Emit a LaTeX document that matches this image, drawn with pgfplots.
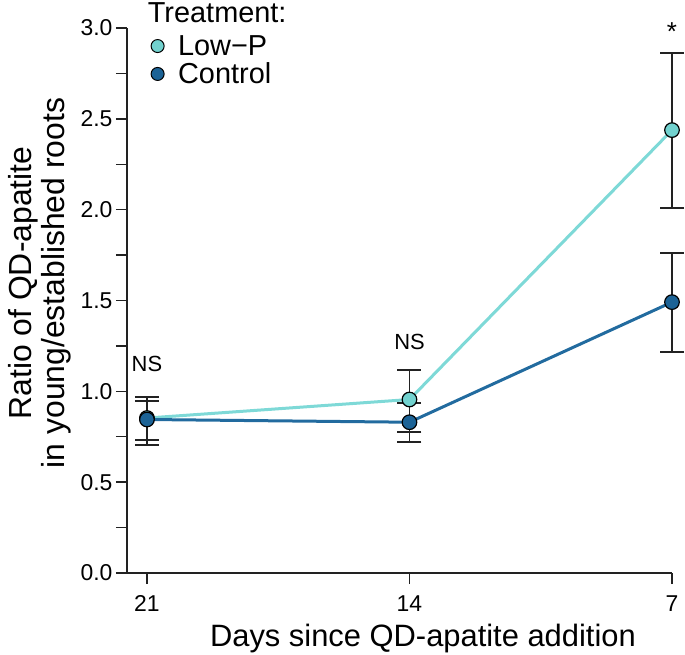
\documentclass[border=0pt]{standalone}
\usepackage{pgfplots}
\pgfplotsset{compat=1.18}
\usepackage{fontspec}
\setmainfont{Liberation Sans}
\definecolor{lowp}{HTML}{72D2CF}
\definecolor{lowpline}{HTML}{7ED9D7}
\definecolor{ctrl}{HTML}{1C6396}
\definecolor{ctrlline}{HTML}{226B9F}
\definecolor{axc}{HTML}{222222}
\begin{document}
\begin{tikzpicture}
\useasboundingbox (-127bp,-82bp) rectangle (558bp,573bp);
\begin{axis}[
 scale only axis, width=545bp, height=545bp,
 xmin=-0.076, xmax=2, ymin=0, ymax=3,
 axis x line*=bottom, axis y line*=left,
 axis line style={axc, line width=1.4bp, -},
 xtick={0,1,2}, xticklabels={21,14,7},
 ytick={0,0.5,...,3}, minor ytick={0.25,0.75,...,2.75},
 /pgf/number format/assume math mode=true,
 yticklabel style={/pgf/number format/.cd, fixed, fixed zerofill, precision=1},
 tick align=outside, major tick length=11bp, minor tick length=11bp,
 tick style={axc, line width=1.4bp},
 ticklabel style={font=\fontsize{23}{27}\selectfont, text=black},
 xticklabel style={yshift=-8bp},
 xlabel={Days since QD-apatite addition},
 xlabel style={font=\fontsize{31}{34}\selectfont, at={(axis description cs:0.543,-0.1211)}, anchor=center},
 ylabel={Ratio of QD-apatite\\in young/established roots},
 ylabel style={font=\fontsize{32}{33}\selectfont, align=center, at={(axis description cs:-0.1593,0.532)}, anchor=center},
 clip=false,
 legend style={draw=none, fill=none, at={(axis description cs:0.0439,0.9905)}, anchor=north west,
   font=\fontsize{29}{32}\selectfont, inner sep=0pt, row sep=2bp, legend cell align=left,
   /tikz/every odd column/.append style={column sep=12bp}},
]
% error bars
\addplot[forget plot, draw=none, mark=none, error bars/.cd, y dir=both, y explicit,
  error bar style={draw=axc, line width=1.4bp},
  error mark options={rotate=90, mark size=12bp, draw=axc, line width=1.4bp}]
  coordinates {(0,0.853) += (0,0.116) -= (0,0.149)
               (1,0.955) += (0,0.162) -= (0,0.179)
               (2,2.438) += (0,0.424) -= (0,0.429)};
\addplot[forget plot, draw=none, mark=none, error bars/.cd, y dir=both, y explicit,
  error bar style={draw=axc, line width=1.4bp},
  error mark options={rotate=90, mark size=12bp, draw=axc, line width=1.4bp}]
  coordinates {(0,0.845) += (0,0.102) -= (0,0.113)
               (1,0.830) += (0,0.105) -= (0,0.109)
               (2,1.491) += (0,0.270) -= (0,0.275)};
% lines with markers
\addplot[forget plot, lowpline, line width=3bp, mark=*, mark size=7.3bp,
  mark options={fill=lowp, draw=black, line width=1.2bp}]
  coordinates {(0,0.853) (1,0.955) (2,2.438)};
\addplot[forget plot, ctrlline, line width=3bp, mark=*, mark size=7.3bp,
  mark options={fill=ctrl, draw=black, line width=1.2bp}]
  coordinates {(0,0.845) (1,0.830) (2,1.491)};
% legend
\addlegendimage{only marks, mark=*, mark size=6.5bp, mark options={fill=lowp, draw=black, line width=1bp}}
\addlegendentry{Low\textminus P}
\addlegendimage{only marks, mark=*, mark size=6.5bp, mark options={fill=ctrl, draw=black, line width=1bp}}
\addlegendentry{Control}
\node[font=\fontsize{29}{32}\selectfont, anchor=base west, inner sep=0pt] at (axis description cs:0.038,1.0092) {Treatment:};
% annotations
\node[font=\fontsize{22}{26}\selectfont, anchor=base, inner sep=0pt] at (axis cs:0,1.11) {NS};
\node[font=\fontsize{22}{26}\selectfont, anchor=base, inner sep=0pt] at (axis cs:1,1.233) {NS};
\node[font=\fontsize{26}{30}\selectfont, anchor=base, inner sep=0pt] at (axis cs:2,2.93) {*};
\end{axis}
\end{tikzpicture}
\end{document}
